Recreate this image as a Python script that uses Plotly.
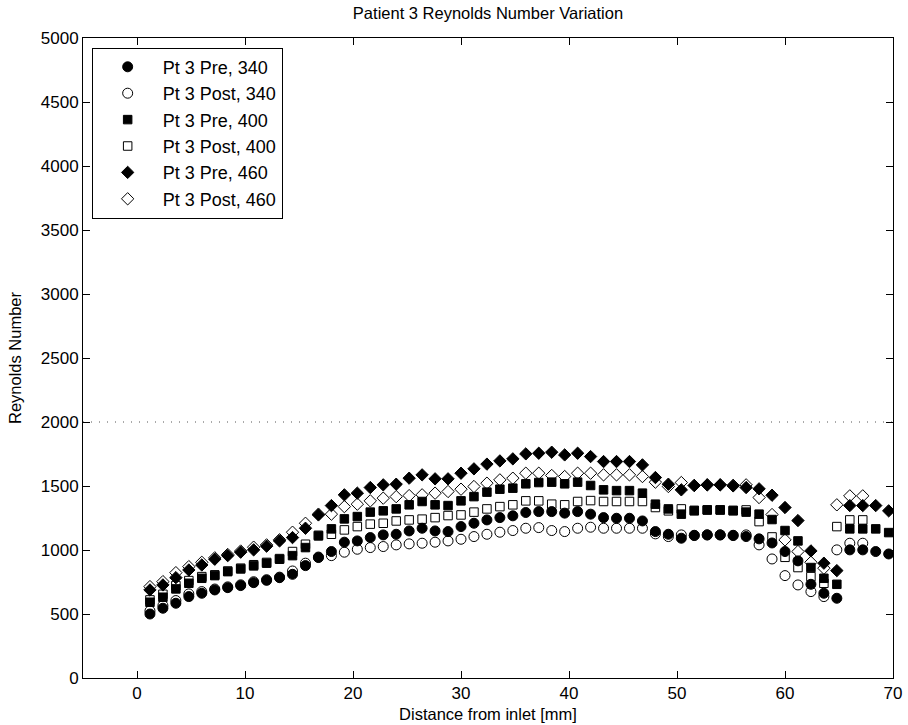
import plotly.graph_objects as go

x_pos = [1.2, 2.4, 3.6, 4.8, 6.0, 7.2, 8.4, 9.6, 10.8, 12.0,
         13.2, 14.4, 15.6, 16.8, 18.0, 19.2, 20.4, 21.6, 22.8, 24.0,
         25.2, 26.4, 27.6, 28.8, 30.0, 31.2, 32.4, 33.6, 34.8, 36.0,
         37.2, 38.4, 39.6, 40.8, 42.0, 43.2, 44.4, 45.6, 46.8, 48.0,
         49.2, 50.4, 51.6, 52.8, 54.0, 55.2, 56.4, 57.6, 58.8, 60.0,
         61.2, 62.4, 63.6, 64.8, 66.0, 67.2, 68.4, 69.6]

pre_340 = [500, 545, 584, 636, 662, 688, 706, 722, 745, 763,
           784, 810, 878, 941, 988, 1061, 1071, 1097, 1118, 1123,
           1149, 1170, 1149, 1144, 1183, 1209, 1235, 1253, 1267, 1293,
           1300, 1300, 1288, 1300, 1280, 1253, 1248, 1248, 1227, 1144,
           1123, 1092, 1113, 1118, 1118, 1113, 1105, 1087, 1055, 988,
           915, 732, 662, 623, 1001, 1001, 988, 969]

post_340 = [524, 566, 605, 657, 675, 695, 712, 728, 752, 768,
            788, 836, 897, 945, 956, 983, 1006, 1019, 1027, 1040,
            1048, 1053, 1061, 1071, 1084, 1105, 1123, 1139, 1152, 1170,
            1175, 1152, 1144, 1170, 1178, 1170, 1170, 1170, 1170, 1126,
            1105, 1118, 1115, 1118, 1118, 1115, 1118, 1040, 930, 800,
            727, 675, 636, 1001, 1053, 1053]

pre_400 = [592, 631, 696, 740, 779, 800, 831, 852, 876, 897,
           928, 956, 1019, 1110, 1165, 1243, 1261, 1296, 1306, 1321,
           1353, 1379, 1353, 1347, 1384, 1417, 1452, 1475, 1483, 1517,
           1527, 1530, 1517, 1530, 1504, 1470, 1464, 1464, 1444, 1358,
           1321, 1280, 1306, 1313, 1313, 1306, 1296, 1280, 1238, 1152,
           1071, 863, 779, 732, 1165, 1165, 1165, 1136]

post_400 = [610, 654, 722, 761, 792, 806, 836, 858, 885, 903,
            933, 988, 1045, 1115, 1123, 1157, 1183, 1202, 1209, 1227,
            1235, 1241, 1253, 1269, 1274, 1296, 1321, 1339, 1353, 1384,
            1384, 1358, 1353, 1379, 1386, 1379, 1379, 1379, 1379, 1332,
            1306, 1321, 1310, 1313, 1313, 1310, 1313, 1222, 1102, 943,
            863, 792, 740, 1183, 1235, 1235]

pre_460 = [688, 727, 784, 844, 883, 928, 956, 983, 1001, 1030,
           1071, 1097, 1170, 1274, 1347, 1431, 1444, 1488, 1509, 1514,
           1561, 1587, 1556, 1556, 1600, 1634, 1671, 1696, 1712, 1751,
           1756, 1764, 1743, 1756, 1730, 1691, 1691, 1691, 1665, 1566,
           1514, 1470, 1504, 1509, 1509, 1501, 1488, 1478, 1428, 1332,
           1230, 993, 897, 839, 1347, 1347, 1347, 1306]

post_460 = [714, 753, 823, 870, 904, 939, 965, 992, 1022, 1040,
            1080, 1139, 1209, 1280, 1280, 1339, 1358, 1384, 1405, 1417,
            1425, 1431, 1444, 1457, 1475, 1496, 1522, 1548, 1561, 1600,
            1600, 1582, 1574, 1600, 1600, 1587, 1587, 1587, 1574, 1530,
            1496, 1527, 1504, 1509, 1509, 1505, 1509, 1410, 1277, 1079,
            988, 904, 858, 1353, 1423, 1423]

series_names = ["Pt 3 Pre, 340", "Pt 3 Post, 340", "Pt 3 Pre, 400",
                "Pt 3 Post, 400", "Pt 3 Pre, 460", "Pt 3 Post, 460"]

threshold_x = [-5, 70]
threshold_y = [2000, 2000]

x_ticks = [0, 10, 20, 30, 40, 50, 60, 70]
y_ticks = [0, 500, 1000, 1500, 2000, 2500, 3000, 3500, 4000, 4500, 5000]

FONT = "Liberation Sans, Arial, Helvetica, sans-serif"

fig = go.Figure()

fig.add_trace(go.Scatter(x=threshold_x, y=threshold_y, mode="lines",
                         line=dict(color="#555555", width=1, dash="1px,7px"),
                         showlegend=False, hoverinfo="skip"))

styles = [
    (pre_340, "circle", 10),
    (post_340, "circle-open", 10),
    (pre_400, "square", 8.5),
    (post_400, "square-open", 8.5),
    (pre_460, "diamond", 9.5),
    (post_460, "diamond-open", 9.5),
]

for name, (vals, sym, sz) in zip(series_names, styles):
    fig.add_trace(go.Scatter(
        x=x_pos[:len(vals)], y=vals, mode="markers", name=name,
        marker=dict(symbol=sym, size=sz, color="black",
                    line=dict(color="black", width=1)),
    ))

axis_common = dict(showline=True, linecolor="black", linewidth=1,
                   mirror="ticks", ticks="inside", ticklen=7,
                   tickcolor="black", showgrid=False, zeroline=False,
                   automargin=False,
                   tickfont=dict(family=FONT, size=17, color="black"))

fig.update_layout(
    width=908, height=725,
    margin=dict(l=83, r=15, t=38, b=47),
    paper_bgcolor="white", plot_bgcolor="white",
    font=dict(family=FONT, size=17, color="black"),
    title=dict(text="Patient 3 Reynolds Number Variation",
               x=(83 + 893) / 2 / 908, xanchor="center",
               y=1 - 13 / 725, yanchor="middle",
               font=dict(family=FONT, size=16.5, color="black")),
    xaxis=dict(range=[-5, 70], tickvals=x_ticks,
               title=dict(text="Distance from inlet [mm]", standoff=6,
                          font=dict(family=FONT, size=16.5)),
               **axis_common),
    yaxis=dict(range=[0, 5000], tickvals=y_ticks,
               title=dict(text="Reynolds Number", standoff=14,
                          font=dict(family=FONT, size=16.5)),
               **axis_common),
    legend=dict(x=0.0107, y=0.985, xanchor="left", yanchor="top",
                bgcolor="white", bordercolor="black", borderwidth=1,
                itemwidth=60, font=dict(family=FONT, size=18),
                tracegroupgap=0),
    showlegend=True,
)

fig.write_html("out.html")
